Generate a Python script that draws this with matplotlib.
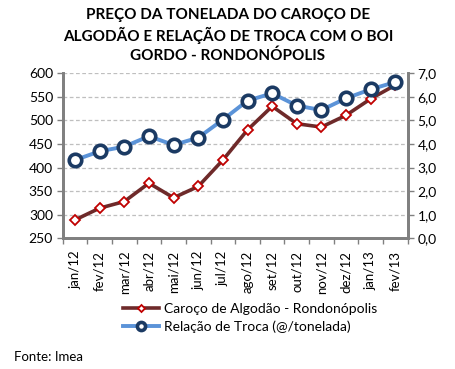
import matplotlib
matplotlib.use("Agg")
import matplotlib.pyplot as plt
import numpy as np

months = ["jan/12", "fev/12", "mar/12", "abr/12", "mai/12", "jun/12", "jul/12",
          "ago/12", "set/12", "out/12", "nov/12", "dez/12", "jan/13", "fev/13"]
caroco = [289, 314, 328, 367, 336, 360, 416, 480, 530, 493, 486, 511, 546, 575]
relacao = [3.32, 3.69, 3.89, 4.33, 3.96, 4.27, 5.03, 5.84, 6.15, 5.63, 5.44, 5.94, 6.32, 6.63]
left_ticks = [250, 300, 350, 400, 450, 500, 550, 600]
right_ticks = [0.0, 1.0, 2.0, 3.0, 4.0, 5.0, 6.0, 7.0]

plt.rcParams['font.family'] = ['Lato', 'DejaVu Sans']

fig = plt.figure(figsize=(4.56, 3.69), dpi=100)
W, H = 456, 369
ax = fig.add_axes([62.7 / W, 1 - 238.3 / H, (407.7 - 62.7) / W, (238.3 - 73.3) / H])
ax2 = ax.twinx()

x = np.arange(len(months))
ax.plot(x, caroco, color="#6E2A2A", lw=2.6, marker="D", ms=5.5, mfc="white",
        mec="#C00000", mew=1.3, zorder=3, label="Caroço de Algodão - Rondonópolis")
ax2.plot(x, relacao, color="#5B93D8", lw=2.8, marker="o", ms=9, mfc="white",
         mec="#1B3A63", mew=2.6, zorder=3, label="Relação de Troca (@/tonelada)")

ax.set_xlim(-0.5, len(months) - 0.5)
ax.set_ylim(250, 600)
ax2.set_ylim(0, 7)
ax.set_yticks(left_ticks)
ax.set_yticklabels([str(v) for v in left_ticks])
ax2.set_yticks(right_ticks)
ax2.set_yticklabels([f"{v:.1f}".replace(".", ",") for v in right_ticks])

ax.set_xticks(np.arange(-0.5, len(months), 1.0))
ax.set_xticklabels([])
ax.set_xticks(x, minor=True)
ax.set_xticklabels(months, minor=True, rotation=90)
ax.tick_params(axis="x", which="minor", length=0, pad=9, labelsize=9.5, colors="#000000")
ax.tick_params(axis="x", which="major", length=4, width=1, color="#808080", direction="out")
ax.tick_params(axis="y", length=4, width=1, color="#808080", labelsize=10, pad=3)
ax2.tick_params(axis="y", length=4, width=1, color="#808080", labelsize=10, pad=3)

ax.grid(axis="y", linestyle=(0, (3, 2)), color="#BFBFBF", lw=0.9)
ax.set_axisbelow(True)
for a in (ax, ax2):
    a.spines["top"].set_visible(False)
    for s in ("left", "right", "bottom"):
        a.spines[s].set_color("#808080")
        a.spines[s].set_linewidth(2)
ax.patch.set_visible(False)

fig.text(228 / W, 1 - 35.5 / H,
         "PREÇO DA TONELADA DO CAROÇO DE\nALGODÃO E RELAÇÃO DE TROCA COM O BOI\nGORDO - RONDONÓPOLIS",
         ha="center", va="center", fontsize=11, fontweight="bold", linespacing=1.4)

h1, l1 = ax.get_legend_handles_labels()
h2, l2 = ax2.get_legend_handles_labels()
fig.legend(h1 + h2, l1 + l2, loc="center", bbox_to_anchor=(250 / W, 1 - 318 / H),
           frameon=False, fontsize=10, handlelength=2.6, handletextpad=0.3,
           labelspacing=0.4, borderaxespad=0, markerscale=0.65)

fig.text(14 / W, 1 - 357 / H, "Fonte: Imea", ha="left", va="center", fontsize=9.5)

fig.savefig("out.png", dpi=100, facecolor="white")
